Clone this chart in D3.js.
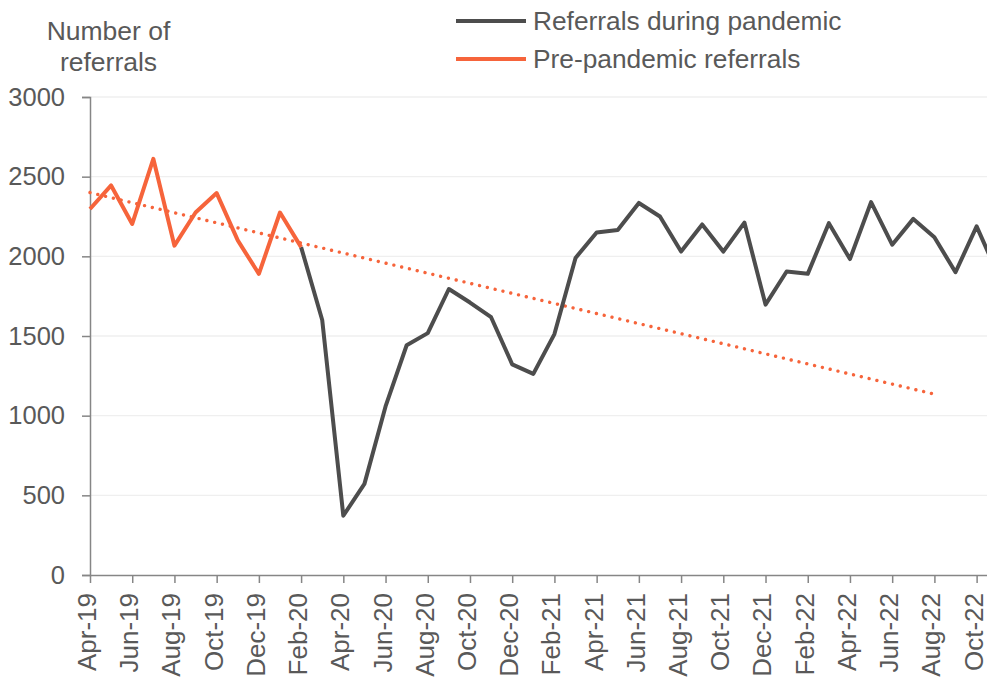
<!DOCTYPE html>
<html>
<head>
<meta charset="utf-8">
<script src="https://cdn.jsdelivr.net/npm/d3@7"></script>
<style>
  body { margin: 0; background: #fff; }
  svg { display: block; font-family: "Liberation Sans", Arial, sans-serif; }
</style>
</head>
<body>
<svg id="chart" width="987" height="677"></svg>
<script>
// months on the category axis (Nov-22 runs off the right edge)
let months = ["Apr-19","May-19","Jun-19","Jul-19","Aug-19","Sep-19","Oct-19","Nov-19","Dec-19","Jan-20",
  "Feb-20","Mar-20","Apr-20","May-20","Jun-20","Jul-20","Aug-20","Sep-20","Oct-20","Nov-20",
  "Dec-20","Jan-21","Feb-21","Mar-21","Apr-21","May-21","Jun-21","Jul-21","Aug-21","Sep-21",
  "Oct-21","Nov-21","Dec-21","Jan-22","Feb-22","Mar-22","Apr-22","May-22","Jun-22","Jul-22",
  "Aug-22","Sep-22","Oct-22","Nov-22"];

let preMonths = months.slice(0, 11);
let preValues = [2297, 2445, 2203, 2612, 2067, 2275, 2397, 2100, 1890, 2275, 2058];

let pandemicMonths = months.slice(10);
let pandemicValues = [2058, 1600, 372, 572, 1058, 1442, 1518, 1795, 1710, 1618,
  1322, 1262, 1512, 1990, 2150, 2165, 2335, 2250, 2030, 2200,
  2030, 2212, 1697, 1905, 1890, 2208, 1983, 2340, 2073, 2235,
  2120, 1900, 2188, 1890];

// linear trend of the pre-pandemic referrals, two end points
let trendMonths = ["Apr-19", "Aug-22"];
let trendValues = [2400, 1135];

let yTicks = [0, 500, 1000, 1500, 2000, 2500, 3000];
let legendLabels = ["Referrals during pandemic", "Pre-pandemic referrals"];
let yTitle = ["Number of", "referrals"];

let grey = "#4d4d4d", orange = "#f6643b", textCol = "#595959", axisCol = "#868686";

let svg = d3.select("#chart");

let x = d3.scalePoint()
    .domain(months)
    .range([90, 90 + 43 * 21.11]);

let y = d3.scaleLinear()
    .domain([0, 3000])
    .range([575, 97]);

// gridlines
svg.append("g")
    .selectAll("line")
    .data(yTicks.filter(d => d > 0))
    .enter().append("line")
    .attr("x1", 90)
    .attr("x2", 987)
    .attr("y1", d => y(d))
    .attr("y2", d => y(d))
    .attr("stroke", "#efefef")
    .attr("stroke-width", 1.3);

// y axis
let yAxis = svg.append("g")
    .attr("transform", "translate(90,0)")
    .call(d3.axisLeft(y).tickValues(yTicks).tickSize(8).tickPadding(17).tickFormat(d3.format("d")));
yAxis.selectAll("text").attr("font-size", 25.5).attr("fill", textCol).attr("font-family", "Liberation Sans, Arial, sans-serif");
yAxis.selectAll("line").attr("stroke", axisCol).attr("stroke-width", 1.5);
yAxis.select(".domain").attr("stroke", axisCol).attr("stroke-width", 1.5);

// x axis
let xAxis = svg.append("g")
    .attr("transform", "translate(0,575)")
    .call(d3.axisBottom(x).tickValues(months.filter((d, i) => i % 2 === 0)).tickSize(8).tickSizeOuter(0));
xAxis.select(".domain").attr("stroke", axisCol).attr("stroke-width", 1.5);
xAxis.selectAll("line").attr("stroke", axisCol).attr("stroke-width", 1.5);
xAxis.selectAll("text")
    .attr("font-size", 26)
    .attr("fill", textCol)
    .attr("font-family", "Liberation Sans, Arial, sans-serif")
    .attr("text-anchor", "end")
    .attr("dy", "0.21em")
    .attr("transform", "translate(0,18) rotate(-90)")
    .attr("x", 0)
    .attr("y", 0);

let line = d3.line()
    .x(d => x(d[0]))
    .y(d => y(d[1]));

// trend (dotted)
svg.append("path")
    .datum(d3.zip(trendMonths, trendValues))
    .attr("d", line)
    .attr("fill", "none")
    .attr("stroke", orange)
    .attr("stroke-width", 3.4)
    .attr("stroke-linecap", "round")
    .attr("stroke-dasharray", "0.01 8");

svg.append("path")
    .datum(d3.zip(pandemicMonths, pandemicValues))
    .attr("d", line)
    .attr("fill", "none")
    .attr("stroke", grey)
    .attr("stroke-width", 4)
    .attr("stroke-linejoin", "round");

svg.append("path")
    .datum(d3.zip(preMonths, preValues))
    .attr("d", line)
    .attr("fill", "none")
    .attr("stroke", orange)
    .attr("stroke-width", 4)
    .attr("stroke-linejoin", "round");

// y title
svg.append("g")
    .selectAll("text")
    .data(yTitle)
    .enter().append("text")
    .attr("x", 108.5)
    .attr("y", (d, i) => 39.5 + i * 31.5)
    .attr("text-anchor", "middle")
    .attr("font-size", 26.5)
    .attr("fill", textCol)
    .text(d => d);

// legend
let legend = svg.append("g")
    .selectAll("g")
    .data(legendLabels)
    .enter().append("g")
    .attr("transform", (d, i) => "translate(0," + (21 + i * 38) + ")");

legend.append("line")
    .attr("x1", 456)
    .attr("x2", 526)
    .attr("stroke", (d, i) => i === 0 ? grey : orange)
    .attr("stroke-width", 4);

legend.append("text")
    .attr("x", 533)
    .attr("y", 0)
    .attr("dy", "0.35em")
    .attr("font-size", 26.3)
    .attr("fill", textCol)
    .text(d => d);
</script>
</body>
</html>
